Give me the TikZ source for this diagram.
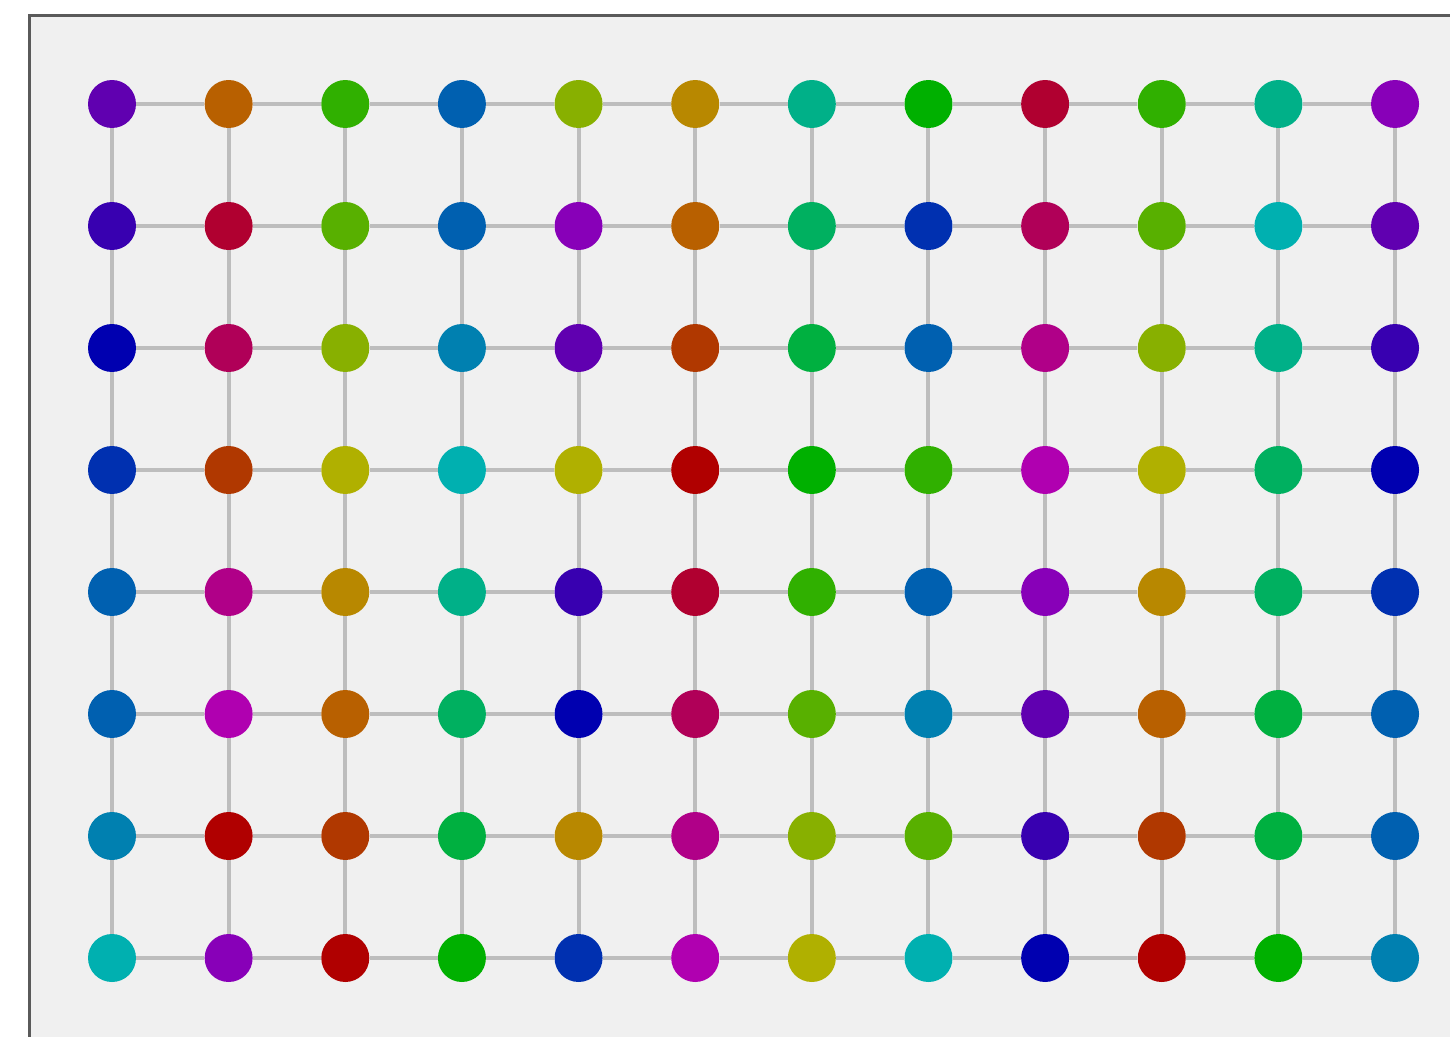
\documentclass[tikz,border=0pt]{standalone}
\usepackage{xcolor}
\usetikzlibrary{positioning}

% palette of the dots
\definecolor{indigo}{HTML}{3800B0}
\definecolor{navy}{HTML}{0000B0}
\definecolor{dblue}{HTML}{0030B0}
\definecolor{blue}{HTML}{0060B0}
\definecolor{sky}{HTML}{0080B0}
\definecolor{cyan}{HTML}{00B0B0}
\definecolor{teal}{HTML}{00B088}
\definecolor{jade}{HTML}{00B060}
\definecolor{emerald}{HTML}{00B040}
\definecolor{green}{HTML}{00B000}
\definecolor{lime}{HTML}{30B000}
\definecolor{grass}{HTML}{58B000}
\definecolor{chart}{HTML}{88B000}
\definecolor{olive}{HTML}{B0B000}
\definecolor{ochre}{HTML}{B88800}
\definecolor{orange}{HTML}{B86000}
\definecolor{rust}{HTML}{B03800}
\definecolor{red}{HTML}{B00000}
\definecolor{crimson}{HTML}{B00030}
\definecolor{rose}{HTML}{B00058}
\definecolor{magenta}{HTML}{B00088}
\definecolor{fuchsia}{HTML}{B000B0}
\definecolor{violet}{HTML}{8800B8}
\definecolor{purple}{HTML}{6000B0}
\definecolor{panel}{HTML}{F0F0F0}
\definecolor{frame}{HTML}{5A5A5A}
\definecolor{link}{HTML}{BDBDBD}

\tikzset{
  dot/.style={circle, fill=#1, draw=none, minimum size=0.96cm, inner sep=0pt},
  link/.style={draw=link, line width=0.08cm},
}

\begin{document}
\begin{tikzpicture}[x=0.02cm, y=-0.02cm]
\clip (0,0) rectangle (1450,1037);
\useasboundingbox (0,0) rectangle (1450,1037);

% Panel (cut off at right and bottom)
\draw[frame, fill=panel, line width=0.06cm] (29,16) rectangle (1480,1080);

% Dots, row by row
\foreach \rowlist [count=\r] in {
  {purple,orange,lime,blue,chart,ochre,teal,green,crimson,lime,teal,violet},
  {indigo,crimson,grass,blue,violet,orange,jade,dblue,rose,grass,cyan,purple},
  {navy,rose,chart,sky,purple,rust,emerald,blue,magenta,chart,teal,indigo},
  {dblue,rust,olive,cyan,olive,red,green,lime,fuchsia,olive,jade,navy},
  {blue,magenta,ochre,teal,indigo,crimson,lime,blue,violet,ochre,jade,dblue},
  {blue,fuchsia,orange,jade,navy,rose,grass,sky,purple,orange,emerald,blue},
  {sky,red,rust,emerald,ochre,magenta,chart,grass,indigo,rust,emerald,blue},
  {cyan,violet,red,green,dblue,fuchsia,olive,cyan,navy,red,green,sky}}
  \foreach \col [count=\c] in \rowlist
    \node[dot=\col] (dot-\r-\c) at ({112+(\c-1)*116.64}, {104+(\r-1)*122}) {};

% Horizontal links
\foreach \r in {1,...,8}
  \foreach \c in {1,...,11} {
    \pgfmathtruncatemacro{\n}{\c+1}
    \draw[link] (dot-\r-\c) -- (dot-\r-\n);
  }

% Vertical links
\foreach \r in {1,...,7}
  \foreach \c in {1,...,12} {
    \pgfmathtruncatemacro{\n}{\r+1}
    \draw[link] (dot-\r-\c) -- (dot-\n-\c);
  }
\end{tikzpicture}
\end{document}
